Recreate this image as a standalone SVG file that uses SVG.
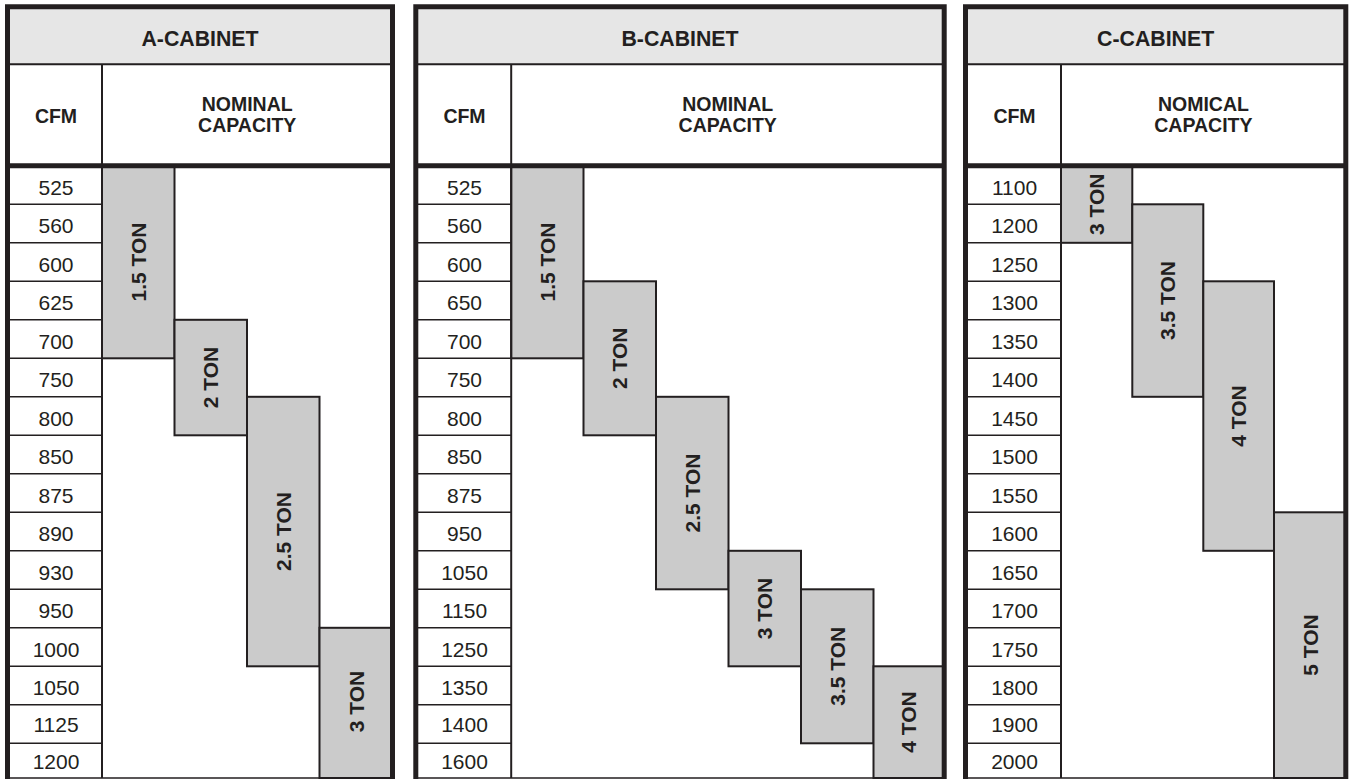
<svg xmlns="http://www.w3.org/2000/svg" width="1351" height="779" viewBox="0 0 1351 779">
<style>
text{font-family:"Liberation Sans",Arial,sans-serif;fill:#231f20;text-anchor:middle}
.title{font-size:21.3px;font-weight:bold}
.hd{font-size:19.5px;font-weight:bold}
.num{font-size:21px}
.ton{font-size:21px;font-weight:bold}
.hdr{fill:#e6e6e6}
.blk{fill:#cbcbcb;stroke:#231f20;stroke-width:2}
.thin{stroke:#231f20;stroke-width:1.6;fill:none}
.mid{stroke:#231f20;stroke-width:2;fill:none}
.thick{stroke:#231f20;stroke-width:5;fill:none}
</style>
<rect width="1351" height="779" fill="#ffffff"/>

<!-- A-CABINET -->
<g id="a-cabinet">
  <rect class="hdr" x="7.5" y="6.8" width="385" height="57.5"/>
  <g id="a-blocks">
    <rect class="blk" x="102" y="165.8" width="72.5" height="192.5"/>
    <rect class="blk" x="174.5" y="319.8" width="72.5" height="115.5"/>
    <rect class="blk" x="247" y="396.8" width="72.5" height="269.5"/>
    <rect class="blk" x="319.5" y="627.8" width="73" height="150.2"/>
  </g>
  <path class="thin" d="M7.5 204.3H102M7.5 242.8H102M7.5 281.3H102M7.5 319.8H102M7.5 358.3H102M7.5 396.8H102M7.5 435.3H102M7.5 473.8H102M7.5 512.3H102M7.5 550.8H102M7.5 589.3H102M7.5 627.8H102M7.5 666.3H102M7.5 704.8H102M7.5 743.3H102M7.5 778H392.5"/>
  <path class="mid" d="M7.5 64.3H392.5M102 64.3V778"/>
  <path class="thick" d="M7.5 779V6.8H392.5V779M7.5 165.8H392.5"/>
  <text class="title" x="200" y="45.5">A-CABINET</text>
  <text class="hd" x="56" y="122.7">CFM</text>
  <text class="hd" x="247.2" y="111.3">NOMINAL</text>
  <text class="hd" x="247.2" y="132.3">CAPACITY</text>
  <g class="num-col">
    <text class="num" x="56" y="194.8">525</text>
    <text class="num" x="56" y="233">560</text>
    <text class="num" x="56" y="271.5">600</text>
    <text class="num" x="56" y="310">625</text>
    <text class="num" x="56" y="348.5">700</text>
    <text class="num" x="56" y="387">750</text>
    <text class="num" x="56" y="425.5">800</text>
    <text class="num" x="56" y="464">850</text>
    <text class="num" x="56" y="502.5">875</text>
    <text class="num" x="56" y="541">890</text>
    <text class="num" x="56" y="579.5">930</text>
    <text class="num" x="56" y="618">950</text>
    <text class="num" x="56" y="656.5">1000</text>
    <text class="num" x="56" y="695">1050</text>
    <text class="num" x="56" y="731.5">1125</text>
    <text class="num" x="56" y="768.5">1200</text>
  </g>
  <text class="ton" transform="translate(145.8 262) rotate(-90)">1.5 TON</text>
  <text class="ton" transform="translate(218.3 377.5) rotate(-90)">2 TON</text>
  <text class="ton" transform="translate(290.8 531.5) rotate(-90)">2.5 TON</text>
  <text class="ton" transform="translate(363.6 701.5) rotate(-90)">3 TON</text>
</g>

<!-- B-CABINET -->
<g id="b-cabinet">
  <rect class="hdr" x="415.8" y="6.8" width="528.4" height="57.5"/>
  <g id="b-blocks">
    <rect class="blk" x="511.2" y="165.8" width="72.3" height="192.5"/>
    <rect class="blk" x="583.5" y="281.3" width="72.5" height="154"/>
    <rect class="blk" x="656" y="396.8" width="72.5" height="192.5"/>
    <rect class="blk" x="728.5" y="550.8" width="72.5" height="115.5"/>
    <rect class="blk" x="801" y="589.3" width="72.5" height="154"/>
    <rect class="blk" x="873.5" y="666.3" width="70.7" height="111.7"/>
  </g>
  <path class="thin" d="M415.8 204.3H511.2M415.8 242.8H511.2M415.8 281.3H511.2M415.8 319.8H511.2M415.8 358.3H511.2M415.8 396.8H511.2M415.8 435.3H511.2M415.8 473.8H511.2M415.8 512.3H511.2M415.8 550.8H511.2M415.8 589.3H511.2M415.8 627.8H511.2M415.8 666.3H511.2M415.8 704.8H511.2M415.8 743.3H511.2M415.8 778H944.2"/>
  <path class="mid" d="M415.8 64.3H944.2M511.2 64.3V778"/>
  <path class="thick" d="M415.8 779V6.8H944.2V779M415.8 165.8H944.2"/>
  <text class="title" x="680" y="45.5">B-CABINET</text>
  <text class="hd" x="464.5" y="122.7">CFM</text>
  <text class="hd" x="727.7" y="111.3">NOMINAL</text>
  <text class="hd" x="727.7" y="132.3">CAPACITY</text>
  <g class="num-col">
    <text class="num" x="464.5" y="194.8">525</text>
    <text class="num" x="464.5" y="233">560</text>
    <text class="num" x="464.5" y="271.5">600</text>
    <text class="num" x="464.5" y="310">650</text>
    <text class="num" x="464.5" y="348.5">700</text>
    <text class="num" x="464.5" y="387">750</text>
    <text class="num" x="464.5" y="425.5">800</text>
    <text class="num" x="464.5" y="464">850</text>
    <text class="num" x="464.5" y="502.5">875</text>
    <text class="num" x="464.5" y="541">950</text>
    <text class="num" x="464.5" y="579.5">1050</text>
    <text class="num" x="464.5" y="618">1150</text>
    <text class="num" x="464.5" y="656.5">1250</text>
    <text class="num" x="464.5" y="695">1350</text>
    <text class="num" x="464.5" y="731.5">1400</text>
    <text class="num" x="464.5" y="768.5">1600</text>
  </g>
  <text class="ton" transform="translate(554.8 262) rotate(-90)">1.5 TON</text>
  <text class="ton" transform="translate(627.2 358.3) rotate(-90)">2 TON</text>
  <text class="ton" transform="translate(699.7 493) rotate(-90)">2.5 TON</text>
  <text class="ton" transform="translate(772.2 608.5) rotate(-90)">3 TON</text>
  <text class="ton" transform="translate(844.7 666.3) rotate(-90)">3.5 TON</text>
  <text class="ton" transform="translate(916.2 722) rotate(-90)">4 TON</text>
</g>

<!-- C-CABINET -->
<g id="c-cabinet">
  <rect class="hdr" x="965.5" y="6.8" width="380.3" height="57.5"/>
  <g id="c-blocks">
    <rect class="blk" x="1061" y="165.8" width="71.3" height="77"/>
    <rect class="blk" x="1132.3" y="204.3" width="71" height="192.5"/>
    <rect class="blk" x="1203.3" y="281.3" width="70.7" height="269.5"/>
    <rect class="blk" x="1274" y="512.3" width="71.8" height="265.7"/>
  </g>
  <path class="thin" d="M965.5 204.3H1061M965.5 242.8H1061M965.5 281.3H1061M965.5 319.8H1061M965.5 358.3H1061M965.5 396.8H1061M965.5 435.3H1061M965.5 473.8H1061M965.5 512.3H1061M965.5 550.8H1061M965.5 589.3H1061M965.5 627.8H1061M965.5 666.3H1061M965.5 704.8H1061M965.5 743.3H1061M965.5 778H1345.8"/>
  <path class="mid" d="M965.5 64.3H1345.8M1061 64.3V778"/>
  <path class="thick" d="M965.5 779V6.8H1345.8V779M965.5 165.8H1345.8"/>
  <text class="title" x="1155.6" y="45.5">C-CABINET</text>
  <text class="hd" x="1014.5" y="122.7">CFM</text>
  <text class="hd" x="1203.4" y="111.3">NOMICAL</text>
  <text class="hd" x="1203.4" y="132.3">CAPACITY</text>
  <g class="num-col">
    <text class="num" x="1014.5" y="194.8">1100</text>
    <text class="num" x="1014.5" y="233">1200</text>
    <text class="num" x="1014.5" y="271.5">1250</text>
    <text class="num" x="1014.5" y="310">1300</text>
    <text class="num" x="1014.5" y="348.5">1350</text>
    <text class="num" x="1014.5" y="387">1400</text>
    <text class="num" x="1014.5" y="425.5">1450</text>
    <text class="num" x="1014.5" y="464">1500</text>
    <text class="num" x="1014.5" y="502.5">1550</text>
    <text class="num" x="1014.5" y="541">1600</text>
    <text class="num" x="1014.5" y="579.5">1650</text>
    <text class="num" x="1014.5" y="618">1700</text>
    <text class="num" x="1014.5" y="656.5">1750</text>
    <text class="num" x="1014.5" y="695">1800</text>
    <text class="num" x="1014.5" y="731.5">1900</text>
    <text class="num" x="1014.5" y="768.5">2000</text>
  </g>
  <text class="ton" transform="translate(1104.2 204.3) rotate(-90)">3 TON</text>
  <text class="ton" transform="translate(1175.3 300.5) rotate(-90)">3.5 TON</text>
  <text class="ton" transform="translate(1246.2 416) rotate(-90)">4 TON</text>
  <text class="ton" transform="translate(1317.7 645) rotate(-90)">5 TON</text>
</g>
</svg>
